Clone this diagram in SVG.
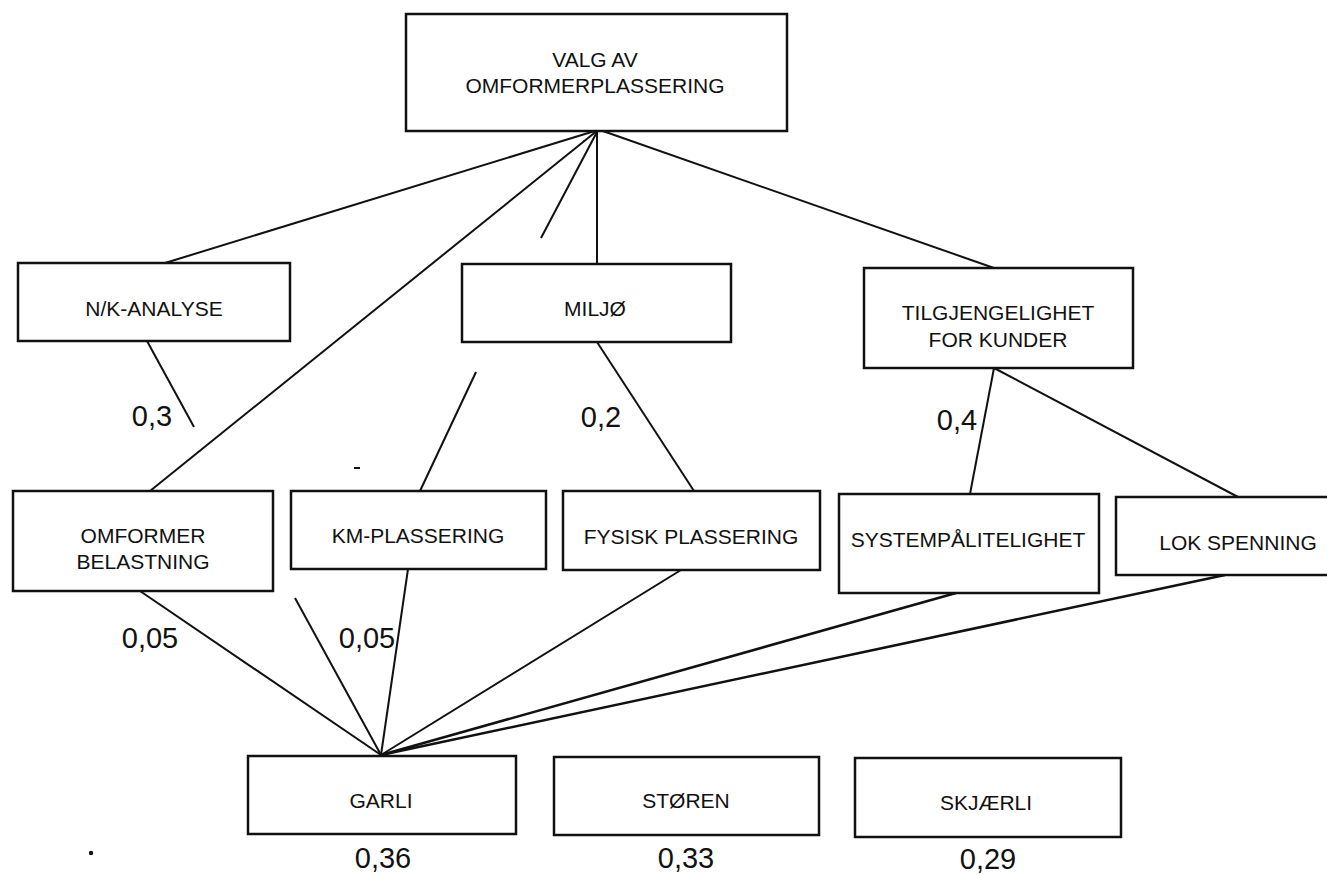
<svg xmlns="http://www.w3.org/2000/svg" width="1327" height="875" viewBox="0 0 1327 875">
<style>
.box{fill:#fff;stroke:#111;stroke-width:2.5}
.t{font-family:"Liberation Sans",Arial,sans-serif;font-size:21px;fill:#111;text-anchor:middle}
.n{font-family:"Liberation Sans",Arial,sans-serif;font-size:29px;fill:#111;text-anchor:middle}
.c line{stroke:#111;stroke-width:2;fill:none}
</style>
<rect width="1327" height="875" fill="#fff"/>
<g class="c" id="connectors">
<line x1="598" y1="130" x2="165" y2="263"/>
<line x1="598" y1="130" x2="150" y2="491"/>
<line x1="598" y1="130" x2="541" y2="238"/>
<line x1="597" y1="130" x2="597" y2="264"/>
<line x1="600" y1="130" x2="994" y2="268"/>
<line x1="147" y1="341" x2="194" y2="427"/>
<line x1="597" y1="342" x2="694" y2="491"/>
<line x1="476" y1="372" x2="420" y2="491"/>
<line x1="994" y1="368" x2="970" y2="494"/>
<line x1="994" y1="368" x2="1238" y2="497"/>
<line x1="140" y1="591" x2="381" y2="755"/>
<line x1="295" y1="598" x2="381" y2="755"/>
<line x1="408" y1="569" x2="381" y2="755"/>
<line x1="681" y1="570" x2="381" y2="755"/>
<line x1="956" y1="593" x2="381" y2="755" style="stroke-width:2.5"/>
<line x1="1225" y1="575" x2="381" y2="755" style="stroke-width:2.5"/>
<line x1="354" y1="468" x2="360" y2="468"/>
</g>
<circle cx="91" cy="853" r="2.2" fill="#111"/>
<g id="top"><rect class="box" x="406" y="14" width="381" height="117"/>
<text class="t" x="595" y="67">VALG AV</text><text class="t" x="595" y="93">OMFORMERPLASSERING</text></g>
<g id="nk"><rect class="box" x="18" y="263" width="272" height="78"/><text class="t" x="154" y="316">N/K-ANALYSE</text></g>
<g id="miljo"><rect class="box" x="462" y="264" width="269" height="78"/><text class="t" x="595" y="316">MILJØ</text></g>
<g id="tilg"><rect class="box" x="864" y="268" width="269" height="100"/><text class="t" x="998" y="320">TILGJENGELIGHET</text><text class="t" x="998" y="347">FOR KUNDER</text></g>
<g id="omf"><rect class="box" x="13" y="491" width="260" height="100"/><text class="t" x="143" y="543">OMFORMER</text><text class="t" x="143" y="569">BELASTNING</text></g>
<g id="km"><rect class="box" x="291" y="491" width="255" height="78"/><text class="t" x="418" y="543">KM-PLASSERING</text></g>
<g id="fys"><rect class="box" x="563" y="491" width="257" height="79"/><text class="t" x="691" y="544">FYSISK PLASSERING</text></g>
<g id="sys"><rect class="box" x="839" y="494" width="260" height="99"/><text class="t" x="968" y="547">SYSTEMPÅLITELIGHET</text></g>
<g id="lok"><rect class="box" x="1116" y="497" width="240" height="78"/><text class="t" x="1238" y="550">LOK SPENNING</text></g>
<g id="garli"><rect class="box" x="248" y="756" width="268" height="78"/><text class="t" x="381" y="808">GARLI</text><text class="n" x="383" y="868">0,36</text></g>
<g id="storen"><rect class="box" x="554" y="757" width="265" height="78"/><text class="t" x="686" y="808">STØREN</text><text class="n" x="686" y="868">0,33</text></g>
<g id="skjaerli"><rect class="box" x="855" y="758" width="266" height="79"/><text class="t" x="986" y="810">SKJÆRLI</text><text class="n" x="988" y="869">0,29</text></g>
<g id="weights">
<text class="n" x="152" y="426">0,3</text>
<text class="n" x="601" y="427">0,2</text>
<text class="n" x="957" y="430">0,4</text>
<text class="n" x="150" y="648">0,05</text>
<text class="n" x="367" y="648">0,05</text>
</g>
</svg>
